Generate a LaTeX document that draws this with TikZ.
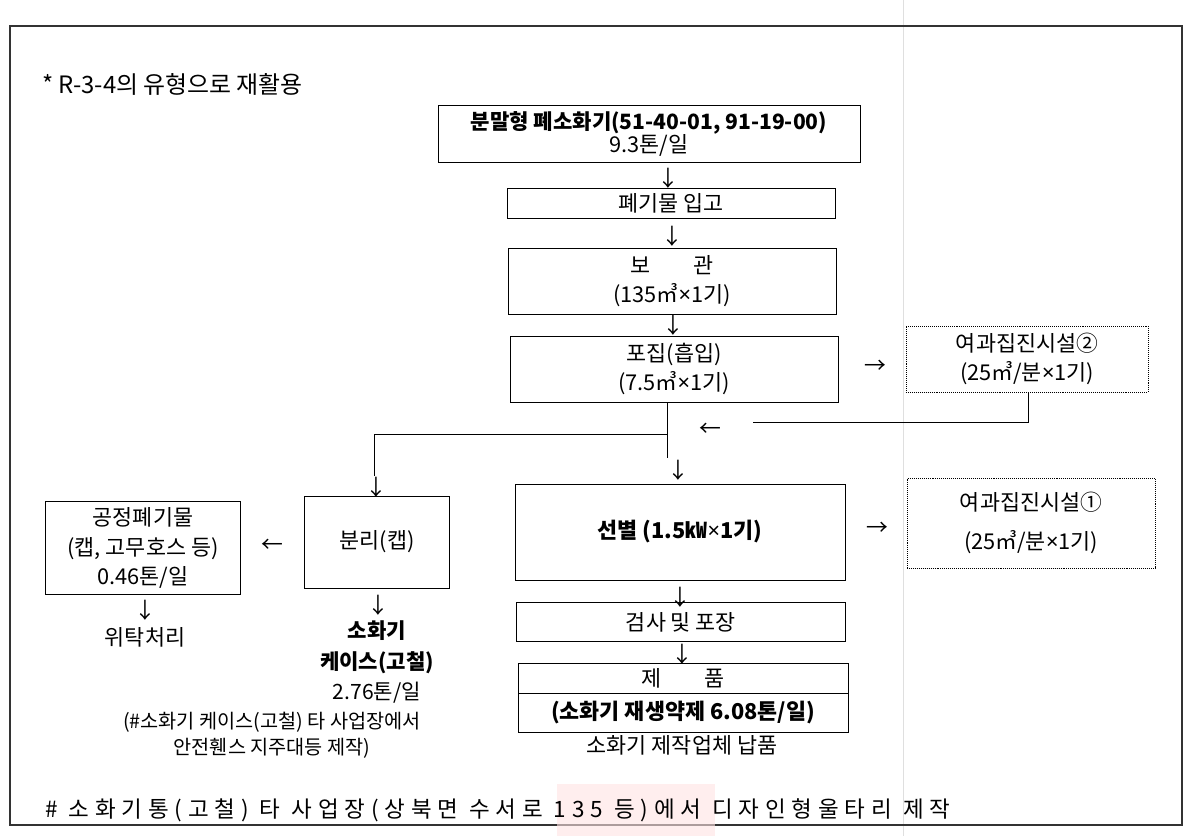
\documentclass[tikz,border=0pt]{standalone}
\usepackage{fontspec}
\setmainfont{Noto Sans CJK KR}
\newfontfamily\latinfont{Noto Sans}
\newcommand{\tms}{{\latinfont ×}}
\usetikzlibrary{positioning}
\begin{document}
\begin{tikzpicture}[x=0.025cm,y=-0.025cm,font=\fontsize{15.5}{21}\selectfont,
	box/.style={draw,thin,align=center,inner sep=1pt},
	dbox/.style={draw,densely dotted,thin,align=center,inner sep=1pt},
	arr/.style={inner sep=0pt},
	txt/.style={align=center,inner sep=0pt}]
	\useasboundingbox (0,0) rectangle (1194,836);
	\draw [gray!25] (903,0) -- (903,836);
	\draw [line width=1pt,black!80] (10,26) rectangle (1182,825);
	\node [txt,anchor=west,font=\fontsize{17}{20}\selectfont] (note) at (42,84) {* R-3-4의 유형으로 재활용};
	% main line
	\node [box,minimum width=10.55cm,minimum height=1.42cm] (src) at (649,134) {\fontsize{15}{20}\selectfont\textbf{분말형 폐소화기(51-40-01, 91-19-00)}\\[-5pt]9.3톤/일};
	\node [arr] (a1) at (668,178) {↓};
	\node [box,minimum width=8.2cm,minimum height=0.75cm] (recv) at (671,203) {폐기물 입고};
	\node [arr] (a2) at (672,236) {↓};
	\node [box,minimum width=8.2cm,minimum height=1.65cm] (store) at (672,281) {보\quad\quad 관\\(135㎥\tms1기)};
	\node [arr] (a3) at (673,325) {↓};
	\node [box,minimum width=8.2cm,minimum height=1.65cm] (collect) at (674,369) {포집(흡입)\\(7.5㎥\tms1기)};
	\node [arr] (a4) at (875,367) {→};
	\node [dbox,minimum width=6.05cm,minimum height=1.65cm] (dust2) at (1027,359) {여과집진시설②\\(25㎥/분\tms1기)};
	\node [arr] (a5) at (710,430) {←};
	% branches
	\coordinate (j1) at (667,434);
	\coordinate (j2) at (374,434);
	\coordinate (e1) at (374,476);
	\coordinate (e2) at (667,458);
	\coordinate (r1) at (1028,422);
	\coordinate (r2) at (753,422);
	\draw [thin] (collect.south -| j1) -- (e2);
	\draw [thin] (j1) -- (j2) -- (e1);
	\draw [thin] (dust2.south -| r1) -- (r1) -- (r2);
	\node [arr] (a6) at (376,487) {↓};
	\node [arr] (a7) at (678,470) {↓};
	% left side
	\node [box,minimum width=3.62cm,minimum height=2.3cm] (sep) at (377,542) {분리(캡)};
	\node [arr] (a8) at (272,546) {←};
	\node [box,minimum width=4.87cm,minimum height=2.32cm] (waste) at (143,548) {공정폐기물\\(캡, 고무호스 등)\\0.46톤/일};
	\node [arr] (a10) at (145,610) {↓};
	\node [txt] (entrust) at (145,637) {위탁처리};
	\node [arr] (a11) at (378,605) {↓};
	\node [txt,font=\fontsize{15}{21.5}\selectfont] (case) at (377,662) {\textbf{소화기}\\\textbf{케이스(고철)}\\2.76톤/일};
	\node [txt,font=\fontsize{14}{18.5}\selectfont] (casenote) at (272,735) {(\#소화기 케이스(고철) 타 사업장에서\\안전휀스 지주대등 제작)};
	% sorting
	\node [box,minimum width=8.25cm,minimum height=2.4cm] (sort) at (680,532) {\fontsize{15.5}{20}\selectfont\textbf{선별 (1.5㎾\tms1기)}};
	\node [arr] (a9) at (877,529) {→};
	\node [dbox,minimum width=6.2cm,minimum height=2.25cm] (dust1) at (1031,523) {여과집진시설①\\[7pt](25㎥/분\tms1기)};
	\node [arr] (a12) at (680,597) {↓};
	\node [box,minimum width=8.22cm,minimum height=0.97cm] (inspect) at (681,622) {검사 및 포장};
	\node [arr] (a13) at (682,654) {↓};
	\node [box,minimum width=8.25cm,minimum height=0.75cm] (prod) at (683,678) {제\qquad 품};
	\node [box,minimum width=8.25cm,minimum height=0.97cm,anchor=north] (prodamt) at (prod.south) {\textbf{(소화기 재생약제 6.08톤/일)}};
	\node [txt] (deliver) at (682,745) {소화기 제작업체 납품};
	% bottom remark
	\fill [pink!45,opacity=0.6] (557,784) rectangle (715,836);
	\node [txt,anchor=west,font=\fontsize{16}{18}\selectfont\addfontfeature{LetterSpace=26}] (remark) at (45,810) {\# 소화기통(고철) 타 사업장(상북면 수서로 135 등)에서 디자인형울타리 제작};
\end{tikzpicture}
\end{document}
